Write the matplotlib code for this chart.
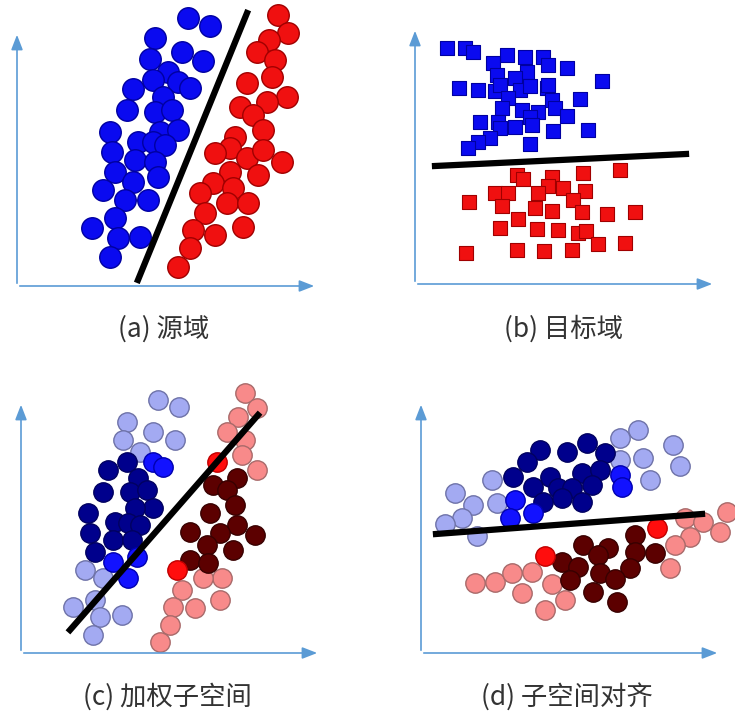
import numpy as np
import matplotlib.pyplot as plt

plt.rcParams['font.family'] = ['Noto Sans CJK SC', 'DejaVu Sans']

# coordenadas de los puntos (x, y en pixeles)
a_azul_x = [188, 210, 155, 182, 150, 203, 168, 153, 178, 190, 133, 163, 127, 155, 172, 110, 160, 178,
            138, 153, 165, 112, 135, 155, 115, 158, 133, 103, 125, 148, 92, 115, 118, 140, 110]
a_azul_y = [18, 26, 38, 52, 59, 61, 72, 80, 82, 88, 89, 97, 110, 112, 110, 132, 132, 130,
            142, 142, 145, 152, 160, 162, 172, 177, 182, 190, 200, 200, 228, 218, 238, 237, 257]
a_rojo_x = [278, 288, 269, 257, 275, 272, 247, 287, 267, 240, 253, 263, 235, 230, 215, 247, 263, 282,
            230, 258, 213, 233, 200, 227, 248, 205, 243, 215, 193, 190, 178]
a_rojo_y = [15, 33, 40, 52, 60, 77, 83, 97, 102, 107, 115, 130, 137, 148, 153, 158, 150, 162,
            172, 175, 183, 188, 193, 203, 203, 213, 227, 235, 230, 248, 267]
a_linea_x = [138, 247]
a_linea_y = [280, 13]

b_azul_x = [447, 465, 473, 507, 525, 543, 493, 548, 567, 527, 497, 515, 602, 459, 478, 495, 500, 520,
            530, 547, 548, 508, 552, 580, 502, 522, 538, 555, 567, 530, 480, 498, 532, 515, 553, 588,
            500, 490, 478, 530, 468]
b_azul_y = [48, 48, 52, 55, 57, 57, 63, 65, 68, 72, 75, 78, 81, 88, 90, 91, 85, 90,
            86, 88, 85, 98, 100, 99, 108, 110, 112, 108, 116, 117, 122, 122, 125, 127, 131, 130,
            128, 138, 142, 144, 148]
b_rojo_x = [517, 523, 552, 583, 620, 548, 563, 495, 508, 538, 585, 573, 469, 502, 535, 552, 582, 607,
            635, 518, 500, 537, 558, 578, 586, 598, 625, 466, 517, 544, 572]
b_rojo_y = [175, 179, 177, 173, 170, 186, 188, 193, 193, 193, 191, 200, 202, 206, 208, 211, 212, 214,
            212, 219, 228, 229, 230, 233, 231, 244, 243, 253, 250, 251, 250]
b_linea_x = [435, 686]
b_linea_y = [166, 154]

# panel c: fuente (claro), fuente ponderada (fuerte), objetivo (oscuro)
c_azul_claro_x = [158, 179, 127, 153, 175, 123, 140, 85, 103, 73, 95, 100, 122, 93]
c_azul_claro_y = [400, 407, 422, 432, 440, 440, 452, 570, 578, 607, 600, 617, 615, 635]
c_azul_fuerte_x = [153, 163, 113, 137, 128]
c_azul_fuerte_y = [462, 467, 562, 557, 578]
c_azul_oscuro_x = [127, 108, 138, 103, 130, 147, 153, 135, 88, 115, 128, 140, 90, 113, 132, 95]
c_azul_oscuro_y = [462, 470, 478, 492, 492, 490, 508, 508, 513, 522, 523, 525, 533, 540, 540, 552]
c_rojo_claro_x = [245, 257, 238, 227, 245, 242, 257, 222, 203, 182, 220, 173, 195, 170, 160]
c_rojo_claro_y = [393, 408, 417, 432, 440, 455, 470, 578, 578, 590, 600, 607, 608, 625, 642]
c_rojo_fuerte_x = [217, 177]
c_rojo_fuerte_y = [462, 570]
c_rojo_oscuro_x = [213, 237, 227, 235, 210, 237, 220, 190, 255, 207, 233, 190, 208]
c_rojo_oscuro_y = [485, 478, 490, 505, 513, 525, 533, 532, 535, 545, 550, 560, 563]
c_linea_x = [70, 258]
c_linea_y = [630, 415]

d_azul_claro_x = [638, 620, 673, 620, 643, 680, 650, 492, 455, 473, 497, 462, 445, 477]
d_azul_claro_y = [430, 438, 445, 460, 458, 466, 480, 480, 493, 505, 503, 518, 524, 536]
d_azul_fuerte_x = [515, 620, 622, 510, 533]
d_azul_fuerte_y = [500, 475, 487, 518, 513]
d_azul_oscuro_x = [540, 567, 587, 605, 527, 513, 550, 582, 600, 533, 558, 572, 592, 543, 562, 582]
d_azul_oscuro_y = [450, 452, 443, 453, 462, 477, 477, 473, 470, 487, 488, 488, 485, 502, 498, 502]
d_rojo_claro_x = [685, 703, 727, 720, 690, 675, 670, 475, 495, 512, 532, 522, 552, 565, 545]
d_rojo_claro_y = [518, 522, 512, 532, 537, 545, 568, 583, 582, 573, 572, 593, 584, 600, 610]
d_rojo_fuerte_x = [657, 545]
d_rojo_fuerte_y = [528, 556]
d_rojo_oscuro_x = [635, 583, 608, 598, 655, 635, 562, 578, 600, 630, 570, 615, 593, 617]
d_rojo_oscuro_y = [535, 545, 548, 555, 553, 552, 562, 567, 573, 568, 580, 579, 592, 602]
d_linea_x = [436, 702]
d_linea_y = [534, 514]

titulos = ['(a) 源域', '(b) 目标域', '(c) 加权子空间', '(d) 子空间对齐']

fig = plt.figure(figsize=(7.35, 7.18), dpi=100)
ax = fig.add_axes([0, 0, 1, 1])
ax.set_xlim(0, 735)
ax.set_ylim(718, 0)
ax.axis('off')

# ejes con flechas de cada panel: (origen x, origen y, fin x, tope y)
ejes = [(17, 286, 317, 32), (415, 284, 715, 28), (21, 653, 320, 402), (421, 653, 720, 402)]
for ox, oy, fx, ty in ejes:
    ax.annotate('', xy=(fx, oy), xytext=(ox, oy),
                arrowprops=dict(arrowstyle='-|>,head_length=0.9,head_width=0.35', color='#5b9bd5', lw=1.2))
    ax.annotate('', xy=(ox, ty), xytext=(ox, oy),
                arrowprops=dict(arrowstyle='-|>,head_length=0.9,head_width=0.35', color='#5b9bd5', lw=1.2))

s_a = 240
s_c = 195
ax.scatter(a_azul_x, a_azul_y, s=s_a, c='#0a0af0', edgecolors='#0000a0', linewidths=1, zorder=3)
ax.scatter(a_rojo_x, a_rojo_y, s=s_a, c='#f01010', edgecolors='#a00000', linewidths=1, zorder=3)
ax.plot(a_linea_x, a_linea_y, color='black', lw=4.5, zorder=4)

ax.scatter(b_azul_x, b_azul_y, s=100, marker='s', c='#0a0af0', edgecolors='#0000a0', linewidths=0.8, zorder=3)
ax.scatter(b_rojo_x, b_rojo_y, s=100, marker='s', c='#f01010', edgecolors='#a00000', linewidths=0.8, zorder=3)
ax.plot(b_linea_x, b_linea_y, color='black', lw=4.5, zorder=4)

# panel c y d con los mismos estilos
for (bcx, bcy, bfx, bfy, box, boy, rcx, rcy, rfx, rfy, rox, roy, lx, ly) in [
        (c_azul_claro_x, c_azul_claro_y, c_azul_fuerte_x, c_azul_fuerte_y, c_azul_oscuro_x, c_azul_oscuro_y,
         c_rojo_claro_x, c_rojo_claro_y, c_rojo_fuerte_x, c_rojo_fuerte_y, c_rojo_oscuro_x, c_rojo_oscuro_y,
         c_linea_x, c_linea_y),
        (d_azul_claro_x, d_azul_claro_y, d_azul_fuerte_x, d_azul_fuerte_y, d_azul_oscuro_x, d_azul_oscuro_y,
         d_rojo_claro_x, d_rojo_claro_y, d_rojo_fuerte_x, d_rojo_fuerte_y, d_rojo_oscuro_x, d_rojo_oscuro_y,
         d_linea_x, d_linea_y)]:
    ax.scatter(bcx, bcy, s=s_c, c='#a3aaf2', edgecolors='#6e72a8', linewidths=1, zorder=2)
    ax.scatter(rcx, rcy, s=s_c, c='#f88a8a', edgecolors='#a86a6a', linewidths=1, zorder=2)
    ax.scatter(box, boy, s=s_c, c='#00008c', edgecolors='#000060', linewidths=1, zorder=3)
    ax.scatter(rox, roy, s=s_c, c='#5c0000', edgecolors='#380000', linewidths=1, zorder=3)
    ax.scatter(bfx, bfy, s=s_c, c='#1212ff', edgecolors='#0000b0', linewidths=1, zorder=3)
    ax.scatter(rfx, rfy, s=s_c, c='#ff0d0d', edgecolors='#c00000', linewidths=1, zorder=3)
    ax.plot(lx, ly, color='black', lw=4.5, zorder=4)

# titulos debajo de cada panel
posiciones = [(164, 329), (564, 329), (167, 697), (567, 697)]
for t, (px, py) in zip(titulos, posiciones):
    ax.text(px, py, t, ha='center', va='center', fontsize=19, color='#333333')

fig.savefig('out.png', dpi=100)
